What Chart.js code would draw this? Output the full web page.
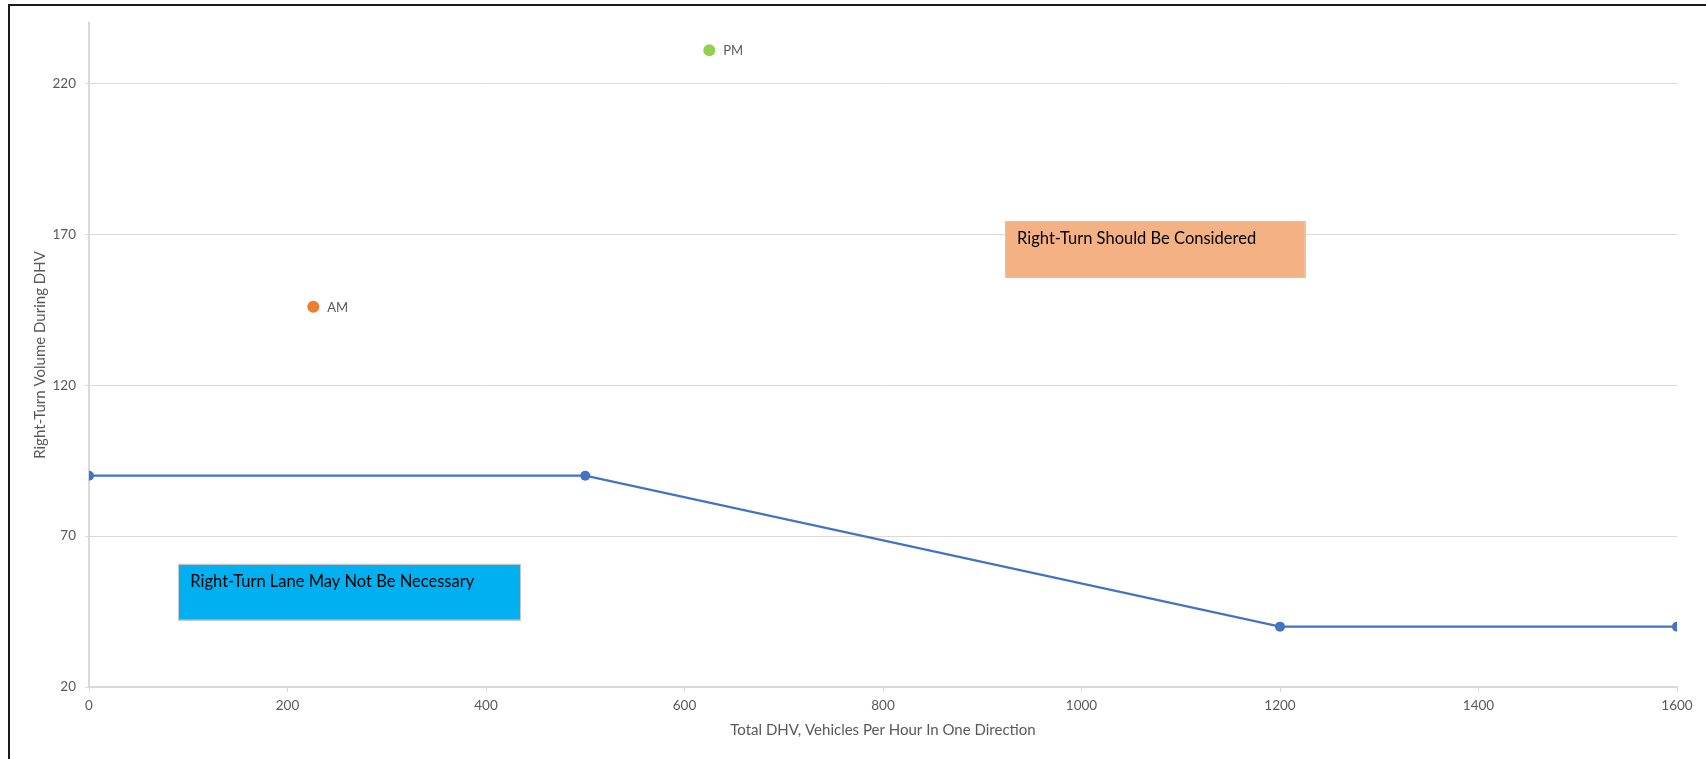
<!DOCTYPE html>
<html>
<head>
<meta charset="utf-8">
<script src="https://cdn.jsdelivr.net/npm/chart.js@4"></script>
<style>
  html, body { margin: 0; padding: 0; background: #ffffff; }
  #wrap { position: relative; width: 1706px; height: 759px; }
</style>
</head>
<body>
<div id="wrap"><canvas id="c" width="1706" height="759"></canvas></div>
<script>
// ---- data ----
const thresholdX = [0, 500, 1200, 1600];
const thresholdY = [90, 90, 40, 40];
const amPoint = [226, 146];
const pmPoint = [625, 231];
const yTickValues = [20, 70, 120, 170, 220];
const xTickStep = 200;
const xRange = [0, 1600];
const yRange = [20, 240];
const xTitle = 'Total DHV, Vehicles Per Hour In One Direction';
const yTitle = 'Right-Turn Volume During DHV';
const boxTexts = ['Right-Turn Lane May Not Be Necessary', 'Right-Turn Should Be Considered'];

// ---- annotation boxes (layout, in data units) ----
const boxes = [
  { text: boxTexts[0], xMin: 90, xMax: 435, yMin: 42.3, yMax: 60.8, fill: '#00B0F0' },
  { text: boxTexts[1], xMin: 923, xMax: 1225, yMin: 155.7, yMax: 174.4, fill: '#F4B183' }
];

const FONT = 'Lato, "Open Sans", sans-serif';
const GRAY = '#595959';
const GRID = '#d9d9d9';

const frame = {
  id: 'frame',
  beforeDraw(chart) {
    const ctx = chart.ctx;
    ctx.save();
    ctx.fillStyle = '#ffffff';
    ctx.fillRect(0, 0, chart.width, chart.height);
    ctx.strokeStyle = '#1a1a1a';
    ctx.lineWidth = 2;
    ctx.beginPath();
    ctx.moveTo(9, chart.height);
    ctx.lineTo(9, 5);
    ctx.lineTo(chart.width, 5);
    ctx.stroke();
    ctx.restore();
  }
};

const boxPlugin = {
  id: 'boxPlugin',
  beforeDatasetsDraw(chart) {
    const ctx = chart.ctx;
    const xs = chart.scales.x, ys = chart.scales.y;
    ctx.save();
    boxes.forEach(b => {
      const x1 = xs.getPixelForValue(b.xMin), x2 = xs.getPixelForValue(b.xMax);
      const y1 = ys.getPixelForValue(b.yMax), y2 = ys.getPixelForValue(b.yMin);
      ctx.fillStyle = b.fill;
      ctx.fillRect(x1, y1, x2 - x1, y2 - y1);
      ctx.strokeStyle = '#c8c8c8';
      ctx.lineWidth = 1;
      ctx.strokeRect(Math.round(x1) + 0.5, Math.round(y1) + 0.5, Math.round(x2 - x1), Math.round(y2 - y1));
      ctx.fillStyle = '#000000';
      ctx.font = '16.5px ' + FONT;
      ctx.textBaseline = 'middle';
      ctx.textAlign = 'left';
      ctx.fillText(b.text, x1 + 12, y1 + 18);
    });
    ctx.restore();
  }
};

const pointLabels = {
  id: 'pointLabels',
  afterDatasetsDraw(chart) {
    const ctx = chart.ctx;
    ctx.save();
    ctx.font = '13px ' + FONT;
    ctx.fillStyle = GRAY;
    ctx.textBaseline = 'middle';
    ctx.textAlign = 'left';
    chart.data.datasets.forEach((ds, i) => {
      if (!ds.pointLabel) return;
      const meta = chart.getDatasetMeta(i);
      meta.data.forEach(el => {
        ctx.fillText(ds.pointLabel, el.x + 14, el.y + 1);
      });
    });
    ctx.restore();
  }
};

new Chart(document.getElementById('c'), {
  type: 'scatter',
  data: {
    datasets: [
      {
        label: 'Threshold',
        data: thresholdX.map((x, i) => ({ x: x, y: thresholdY[i] })),
        showLine: true,
        borderColor: '#4472C4',
        backgroundColor: '#4472C4',
        borderWidth: 2.25,
        pointRadius: 5,
        pointBorderWidth: 0
      },
      {
        label: 'AM',
        pointLabel: 'AM',
        data: [{ x: amPoint[0], y: amPoint[1] }],
        backgroundColor: '#ED7D31',
        borderColor: '#ED7D31',
        pointRadius: 6,
        pointBorderWidth: 0
      },
      {
        label: 'PM',
        pointLabel: 'PM',
        data: [{ x: pmPoint[0], y: pmPoint[1] }],
        backgroundColor: '#92D050',
        borderColor: '#92D050',
        pointRadius: 6,
        pointBorderWidth: 0
      }
    ]
  },
  options: {
    responsive: false,
    animation: false,
    events: [],
    layout: { padding: { top: 23, right: 29, bottom: 0, left: 0 } },
    plugins: { legend: { display: false }, tooltip: { enabled: false } },
    scales: {
      x: {
        type: 'linear',
        min: xRange[0], max: xRange[1],
        ticks: { stepSize: xTickStep, color: GRAY, font: { family: FONT, size: 13.5 }, padding: 6, maxRotation: 0,
                 callback: v => String(v) },
        grid: { drawOnChartArea: false, drawTicks: true, tickLength: 5, color: GRID, lineWidth: 1 },
        border: { color: GRID, width: 2 },
        title: { display: true, text: xTitle, color: GRAY, font: { family: FONT, size: 15 }, padding: { top: 0, bottom: 20 } },
        afterFit(scale) { scale.height = 72; }
      },
      y: {
        type: 'linear',
        min: yRange[0], max: yRange[1],
        afterBuildTicks(scale) { scale.ticks = yTickValues.map(v => ({ value: v })); },
        ticks: { color: GRAY, font: { family: FONT, size: 13.5 }, padding: 9, callback: v => String(v) },
        grid: { color: GRID, lineWidth: 1, tickLength: 4 },
        border: { color: GRID, width: 2 },
        title: { display: true, text: yTitle, color: GRAY, font: { family: FONT, size: 15 }, padding: { top: 31, bottom: 0 } },
        afterFit(scale) { scale.width = 89; }
      }
    }
  },
  plugins: [frame, boxPlugin, pointLabels]
});
</script>
</body>
</html>
